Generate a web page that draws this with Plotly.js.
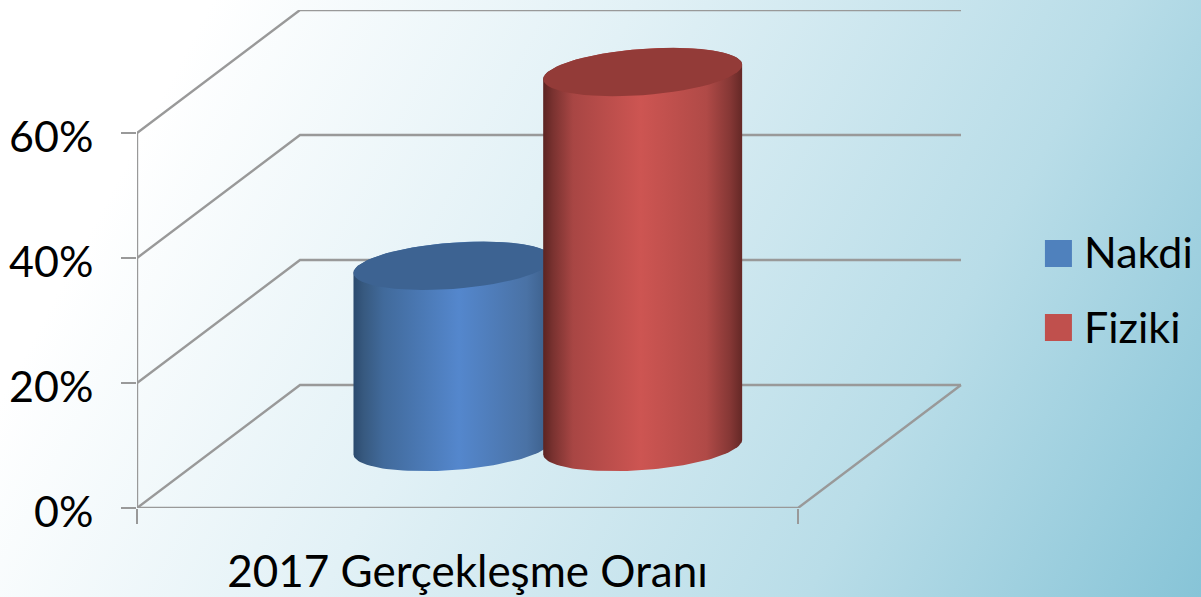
<!DOCTYPE html>
<html>
<head>
<meta charset="utf-8">
<script src="https://cdn.plot.ly/plotly-3.0.1.min.js"></script>
<style>
html,body{margin:0;padding:0;width:1201px;height:597px;overflow:hidden;
background:linear-gradient(118deg,#ffffff 14%,#e2f1f6 42%,#b9dde8 74%,#87c4d7 100%);}
#chart{width:1201px;height:597px;}
</style>
</head>
<body>
<div id="chart"></div>
<script>
const seriesNames = ['Nakdi', 'Fiziki'];
const seriesValues = [29, 60];
const categoryLabel = ['2017 Gerçekleşme Oranı'];
const yTicks = [0, 20, 40, 60];
const legendColors = ['#4f81bd', '#c0504d'];
const capColors = ['#3d6392', '#933b38'];
const bodyScales = [
  [[0,'#2b4a6e'],[0.05,'#37597f'],[0.15,'#416a9b'],[0.53,'#5487cd'],[0.87,'#4a72a5'],[1,'#3a5c86']],
  [[0,'#5c2422'],[0.05,'#7a3230'],[0.15,'#a84644'],[0.49,'#cd5552'],[0.82,'#b04a47'],[0.94,'#853735'],[1,'#642826']]
];

// Oblique projection parameters, in axis units
const depthX = 163 / 661, depthY = 19.68;
const centres = [0.478, 0.765];
const baseY = 9.76, radiusX = 0.1505, radiusY = 3.7, shear = 1.15;
const xMax = 1064 / 661, yMax = 79.68;

function ellipse(cx, cy, from, to) {
  const xs = [], ys = [], n = 60;
  for (let i = 0; i <= n; i++) {
    const t = from + (to - from) * i / n;
    xs.push(cx + radiusX * Math.cos(t));
    ys.push(cy + radiusY * Math.sin(t) + shear * Math.cos(t));
  }
  return [xs, ys];
}

const traces = [];

// Walls and floor, derived from the tick values
const gx = [], gy = [];
yTicks.forEach(v => {
  gx.push(0, depthX, 1 + depthX, null);
  gy.push(v, v + depthY, v + depthY, null);
});
gx.push(0, 0, null, 0, 1, 1 + depthX);
gy.push(0, 60, null, 0, 0, depthY);
traces.push({type:'scatter', mode:'lines', x:gx, y:gy, cliponaxis:false, connectgaps:false,
  line:{color:'#999999', width:2.4}, hoverinfo:'skip', showlegend:false});

// Cylinders
seriesValues.forEach((v, i) => {
  const cx = centres[i], top = baseY + v;
  const low = ellipse(cx, baseY, Math.PI, 2 * Math.PI);
  const up = ellipse(cx, top, 0, Math.PI);
  traces.push({type:'scatter', mode:'lines', name:seriesNames[i], cliponaxis:false,
    x:low[0].concat(up[0]), y:low[1].concat(up[1]), fill:'toself',
    fillgradient:{type:'horizontal', colorscale:bodyScales[i]},
    line:{width:0}, hoverinfo:'name', showlegend:false});
  const cap = ellipse(cx, top, 0, 2 * Math.PI);
  traces.push({type:'scatter', mode:'lines', cliponaxis:false, x:cap[0], y:cap[1], fill:'toself',
    fillcolor:capColors[i], line:{width:0}, hoverinfo:'skip', showlegend:false});
});

// Legend
const legendX = 1.394, legendTextX = 1.4327, legendY = [40.72, 28.88], legendTextY = [40.05, 28.15];
seriesNames.forEach((n, i) => {
  traces.push({type:'scatter', mode:'markers', cliponaxis:false, x:[legendX], y:[legendY[i]],
    marker:{symbol:'square', size:27, color:legendColors[i]}, hoverinfo:'skip', showlegend:false});
  traces.push({type:'scatter', mode:'text', cliponaxis:false, x:[legendTextX], y:[legendTextY[i]],
    text:[n], textposition:'middle right',
    textfont:{family:'Lato', size:43, color:'#000'}, hoverinfo:'skip', showlegend:false});
});

const layout = {
  width:1201, height:597, showlegend:false,
  paper_bgcolor:'rgba(0,0,0,0)', plot_bgcolor:'rgba(0,0,0,0)',
  margin:{l:137, r:0, t:10, b:89, pad:0},
  font:{family:'Lato', size:43, color:'#000'},
  xaxis:{range:[0, xMax], showgrid:false, zeroline:false, showline:false, fixedrange:true,
    tickmode:'array', tickvals:[0.5], ticktext:categoryLabel, ticks:'', ticklabelstandoff:34,
    tickfont:{family:'Lato', size:44, color:'#000'},
    minor:{tickmode:'array', tickvals:[0, 1], ticks:'outside', ticklen:15, tickwidth:2.4, tickcolor:'#999999', showgrid:false}},
  yaxis:{range:[0, yMax], showgrid:false, zeroline:false, showline:false, fixedrange:true,
    tickmode:'array', tickvals:yTicks, ticktext:yTicks.map(v => v + '%'), ticks:'outside',
    ticklen:15, tickwidth:2.4, tickcolor:'#999999', ticklabelstandoff:19, ticklabelshift:4}
};
Plotly.newPlot('chart', traces, layout, {displayModeBar:false});
</script>
</body>
</html>
